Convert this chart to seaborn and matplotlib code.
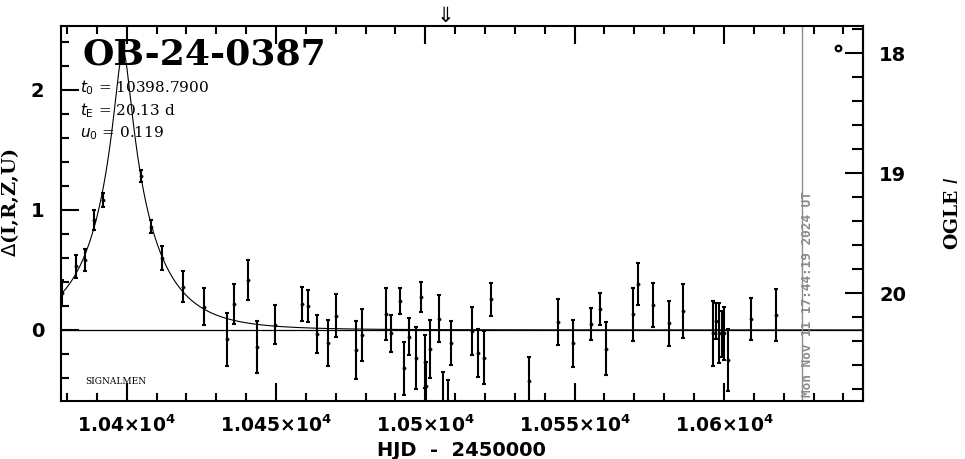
import numpy as np
import pandas as pd
import seaborn as sns
import matplotlib
matplotlib.use("Agg")
import matplotlib.pyplot as plt
from matplotlib.ticker import FixedLocator, MultipleLocator, FixedFormatter
import matplotlib.transforms as mtransforms

# event parameters (printed on the chart)
event_name = "OB-24-0387"
t0 = 10398.79
tE = 20.13
u0 = 0.119
baseline_mag = 20.305

# photometry: HJD-2450000, delta mag, error
hjd = [10378.4, 10382.9, 10386.0, 10389.1, 10392.0, 10404.8, 10408.0, 10411.7,
       10418.7, 10425.9, 10433.7, 10435.9, 10440.7, 10443.7, 10449.6, 10458.8,
       10460.8, 10463.6, 10467.5, 10470.0, 10476.8, 10478.9, 10486.7, 10488.5,
       10491.5, 10492.9, 10494.6, 10496.8, 10498.4, 10499.9, 10500.1, 10501.5,
       10504.6, 10505.8, 10507.7, 10508.5, 10515.7, 10517.7, 10519.7, 10521.9,
       10534.6, 10544.5, 10549.5, 10555.4, 10558.6, 10560.6, 10569.4, 10571.3,
       10576.4, 10581.5, 10586.3, 10596.4, 10597.3, 10598.4, 10599.2, 10600.1,
       10601.4, 10609.2, 10617.4]
dmag = [0.31, 0.53, 0.583, 0.917, 1.083, 1.286, 0.861, 0.603,
        0.361, 0.194, -0.078, 0.217, 0.417, -0.139, 0.044, 0.214,
        0.20, -0.033, -0.11, 0.119, -0.167, -0.042, 0.133, -0.028,
        0.242, -0.319, -0.056, -0.236, 0.272, -0.264, -0.47, -0.161,
        0.092, -0.62, -0.68, -0.111, -0.011, -0.189, -0.231, 0.256,
        -0.422, 0.064, -0.111, 0.05, 0.172, -0.156, 0.131, 0.381,
        0.208, 0.056, 0.158, -0.028, 0.075, -0.028, -0.033, -0.028,
        -0.25, 0.092, 0.125]
err = [0.11, 0.097, 0.093, 0.08, 0.056, 0.049, 0.056, 0.10,
       0.128, 0.153, 0.222, 0.165, 0.167, 0.217, 0.161, 0.143,
       0.133, 0.155, 0.19, 0.18, 0.24, 0.215, 0.215, 0.153,
       0.111, 0.22, 0.155, 0.258, 0.125, 0.22, 0.20, 0.24,
       0.196, 0.27, 0.26, 0.183, 0.2, 0.2, 0.222, 0.139,
       0.2, 0.19, 0.196, 0.135, 0.132, 0.22, 0.22, 0.177,
       0.183, 0.186, 0.226, 0.27, 0.15, 0.25, 0.19, 0.22,
       0.26, 0.178, 0.214]

x_ticks = [10400, 10450, 10500, 10550, 10600]
x_labels = [r"$\mathbf{1.04{\times}10^4}$", r"$\mathbf{1.045{\times}10^4}$",
            r"$\mathbf{1.05{\times}10^4}$", r"$\mathbf{1.055{\times}10^4}$",
            r"$\mathbf{1.06{\times}10^4}$"]
now_hjd = 10626.2
now_label = "Mon Nov 11 17:44:19 2024 UT"
alert_hjd = 10506.6

df = pd.DataFrame({"hjd": hjd, "dmag": dmag, "err": err})

# Paczynski model from the printed parameters
tt = np.linspace(10370, 10650, 1200)
uu = np.sqrt(u0**2 + ((tt - t0) / tE) ** 2)
amp = (uu**2 + 2) / (uu * np.sqrt(uu**2 + 4))
model = pd.DataFrame({"hjd": tt, "dmag": 2.5 * np.log10(amp)})

sns.set_style("ticks")
plt.rcParams["font.family"] = ["DejaVu Sans"]
plt.rcParams["mathtext.fontset"] = "dejavusans"
for key in ["text.color", "axes.labelcolor", "xtick.color", "ytick.color",
            "axes.edgecolor"]:
    plt.rcParams[key] = "black"

fig = plt.figure(figsize=(9.65, 4.59), dpi=100)
ax = fig.add_axes([0.0632, 0.1264, 0.8306, 0.817])

sns.lineplot(data=model, x="hjd", y="dmag", color="black", lw=0.8, ax=ax)
ax.axhline(0, color="black", lw=0.9)
ax.errorbar(df["hjd"], df["dmag"], yerr=df["err"], fmt="none", ecolor="black",
            elinewidth=1.5, capsize=1.5, capthick=1.5, zorder=3)
sns.scatterplot(data=df, x="hjd", y="dmag", color="black", s=6, marker="o",
                edgecolor="black", ax=ax, zorder=4)

ax.axvline(now_hjd, color="#8c8c8c", lw=1.0)
ax.text(now_hjd + 1.9, -0.56, now_label, rotation=90, color="#8c8c8c",
        fontsize=9.2, fontweight="bold", ha="center", va="bottom",
        family="DejaVu Sans Mono")

ax.set_xlim(10378.0, 10646.4)
ax.set_ylim(-0.592, 2.533)

ax.xaxis.set_major_locator(FixedLocator(x_ticks))
ax.xaxis.set_major_formatter(FixedFormatter(x_labels))
ax.xaxis.set_minor_locator(MultipleLocator(10))
ax.yaxis.set_major_locator(MultipleLocator(1))
ax.yaxis.set_minor_locator(MultipleLocator(0.2))
ax.tick_params(which="both", direction="in", top=True, right=False, width=1.5)
ax.tick_params(which="major", length=13)
ax.tick_params(which="minor", length=6)
ax.tick_params(axis="x", labelsize=13.5, pad=10)
ax.tick_params(axis="y", labelsize=14, pad=12)
for lab in ax.get_yticklabels():
    lab.set_fontweight("bold")

for sp in ax.spines.values():
    sp.set_linewidth(1.5)

ax.set_xlabel("HJD  -  2450000", fontsize=14, fontweight="bold")
ax.xaxis.set_label_coords(0.5, -0.108)
ax.set_ylabel(r"$\Delta$(I,R,Z,U)", fontsize=14, fontweight="bold",
              family="DejaVu Serif")
ax.yaxis.set_label_coords(-0.05, 0.528)

sec = ax.secondary_yaxis("right", functions=(lambda d: baseline_mag - d,
                                             lambda m: baseline_mag - m))
sec.yaxis.set_major_locator(FixedLocator([18, 19, 20]))
sec.yaxis.set_minor_locator(MultipleLocator(0.2))
sec.tick_params(which="both", direction="in", width=1.5, labelsize=14, pad=12)
sec.tick_params(which="major", length=13)
sec.tick_params(which="minor", length=8)
for lab in sec.get_yticklabels():
    lab.set_fontweight("bold")
sec.spines["right"].set_linewidth(1.5)
sec.set_ylabel(r"OGLE $I$", fontsize=13.5, fontweight="bold", family="DejaVu Serif",
               rotation=90, labelpad=27)

ax.text(0.027, 0.923, event_name, transform=ax.transAxes, fontsize=26,
        fontweight="bold", family="DejaVu Serif", va="center", ha="left")
ax.text(0.024, 0.835, r"$t_0$ = " + f"{t0:.4f}", transform=ax.transAxes,
        fontsize=11, family="DejaVu Serif", va="center")
ax.text(0.024, 0.773, r"$t_{\rm E}$ = " + f"{tE:.2f} d", transform=ax.transAxes,
        fontsize=11, family="DejaVu Serif", va="center")
ax.text(0.024, 0.715, r"$u_0$ = " + f"{u0:.3f}", transform=ax.transAxes,
        fontsize=11, family="DejaVu Serif", va="center")
ax.text(0.03, 0.053, "SIGNALMEN", transform=ax.transAxes, fontsize=6.5,
        family="DejaVu Serif", va="center")

ax.plot([0.9693], [0.9413], transform=ax.transAxes, marker="o", ms=4,
        mfc="white", mec="black", mew=1.6, clip_on=False)

trans = mtransforms.blended_transform_factory(ax.transData, ax.transAxes)
ax.text(alert_hjd, 1.0, "\u21d3", transform=trans, ha="center", va="bottom",
        fontsize=15)

fig.savefig("out.png", dpi=100)
